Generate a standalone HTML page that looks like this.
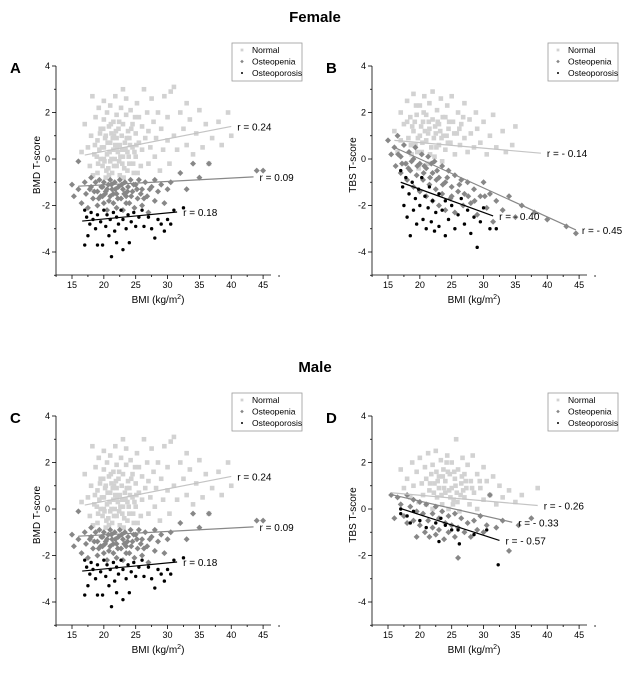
<!DOCTYPE html>
<html><head><meta charset="utf-8"><style>
html,body{margin:0;padding:0;background:#fff;}
svg{display:block;font-family:"Liberation Sans",sans-serif;}
</style></head><body>
<svg id="fig" width="631" height="674" viewBox="0 0 631 674">
<text x="315" y="22" text-anchor="middle" font-size="15" font-weight="bold">Female</text>
<text x="315" y="372" text-anchor="middle" font-size="15" font-weight="bold">Male</text>
</svg>
<script>
const xTicks=[15,20,25,30,35,40,45];
const yTicks=[-4,-2,0,2,4];
const seriesNames=["Normal","Osteopenia","Osteoporosis"];
const aNormal=[[17,1.5],[17.5,0.5],[17.8,-0.3],[18,1],[18.2,2.7],[18.5,0.2],[18.7,1.8],[19,-0.6],[19,0.8],[19.2,2.2],[19.5,0],[19.5,1.3],[19.8,-0.3],[20,0.5],[20,1.7],[20,2.5],[20.3,-0.8],[20.3,1],[20.5,0.2],[20.5,2],[20.7,-0.4],[20.8,1.4],[21,0.7],[21,-0.1],[21,2.3],[21.2,1.1],[21.3,-0.6],[21.5,0.4],[21.5,1.6],[21.7,0],[21.8,2.7],[22,0.9],[22,-0.3],[22,1.9],[22.2,0.3],[22.3,1.3],[22.5,-0.7],[22.5,0.6],[22.7,2.2],[22.8,1],[23,0.1],[23,1.5],[23,3],[23.2,-0.4],[23.3,0.7],[23.5,1.9],[23.5,2.6],[23.7,0.3],[23.8,1.2],[24,-0.2],[24,0.9],[24.2,2.1],[24.5,0.5],[24.5,1.5],[24.7,-0.6],[25,1.1],[25,0.1],[25.2,2.4],[25.5,0.7],[25.5,1.8],[25.8,-0.3],[26,0.4],[26,1.4],[26.3,3],[26.5,0.9],[26.8,2],[27,-0.2],[27,1.2],[27.3,0.5],[27.5,2.6],[27.8,1.6],[28,0.1],[28.2,0.9],[28.5,2],[28.8,-0.5],[29,1.3],[29.3,0.4],[29.5,2.7],[30,1.8],[30,0.8],[30.3,-0.2],[30.5,2.9],[31,1],[31,3.1],[31.5,0.4],[32,2],[32.5,1.3],[33,0.6],[33,2.4],[33.5,1.7],[34,0.2],[34.5,1.1],[35,2.1],[35.5,0.5],[36,1.5],[36.5,-0.2],[37,0.9],[38,1.6],[38.5,0.6],[39.5,2],[40,1],[16.5,0.3],[18.3,-0.7],[19.3,0.4],[20.1,-0.1],[21.4,0.9],[22.1,0.5],[22.6,0.1],[23.4,0.4],[24.1,0.6],[20.6,0.7],[21.9,1.2],[23.6,0.9],[24.8,0.3],[18.6,0.6],[19.1,-0.2],[19.4,1.1],[19.7,0.5],[20.2,0.9],[20.4,-0.5],[20.9,0.3],[21.1,1.5],[21.6,-0.3],[21.6,1.0],[22.4,-0.1],[22.4,1.6],[22.9,0.4],[23.1,-0.8],[23.9,0.1],[24.3,1.3],[24.6,-0.2],[25.1,0.6],[25.3,-0.6],[19.9,1.3],[20.8,-0.7],[21.8,0.6],[23.7,-0.5],[24.9,1.8],[18.9,0.1],[22.9,-0.2],[21.2,0.0],[20.0,0.0]];
const aOsteopenia=[[15,-1.1],[15.3,-1.6],[16,-0.1],[16,-1.3],[16.5,-1.9],[17,-1],[17.2,-1.5],[17.5,-2.1],[18,-1.2],[18,-0.8],[18.3,-1.7],[18.7,-1],[19,-1.4],[19,-2],[19.3,-0.9],[19.5,-1.6],[19.8,-1.2],[20,-1.9],[20,-1],[20.3,-1.4],[20.5,-2.2],[20.7,-1.1],[21,-1.6],[21,-0.9],[21.3,-1.3],[21.5,-1.9],[21.7,-1],[22,-1.5],[22,-2.1],[22.3,-1.2],[22.5,-0.9],[22.7,-1.7],[23,-1.3],[23,-2.2],[23.3,-1],[23.5,-1.6],[23.8,-1.2],[24,-1.9],[24.2,-0.9],[24.5,-1.4],[24.8,-2.1],[25,-1.1],[25.3,-1.7],[25.5,-0.9],[26,-1.3],[26,-2],[26.5,-1],[26.8,-1.6],[27,-2.3],[27.5,-1.2],[28,-0.9],[28,-1.8],[28.5,-1.4],[29,-1.1],[29.5,-1.9],[30,-1.3],[30.5,-1],[32,-0.6],[33,-1.3],[34,-0.2],[35,-0.8],[36.5,-0.2],[44,-0.5],[45,-0.5],[20.2,-1.5],[21.8,-1.3],[23.2,-1.5],[19.6,-1.2],[18.5,-1.4],[19.2,-1.7],[20.5,-1.3],[20.8,-1.8],[21.5,-1.5],[22.2,-1.7],[22.8,-1.1],[23.7,-1.4],[24.3,-1.6],[25.2,-1.3],[25.8,-1.5],[26.3,-1.7],[27.2,-1.3],[17.8,-1.3],[19.8,-1.6],[21.2,-1.1],[23.5,-1.9],[24.7,-1.1]];
const aOsteoporosis=[[17,-3.7],[17,-2.2],[17.3,-2.5],[17.5,-3.3],[17.8,-2.8],[18,-2.3],[18.3,-2.6],[18.7,-3],[19,-3.7],[19,-2.4],[19.5,-2.7],[19.8,-3.7],[20,-2.2],[20.3,-2.9],[20.5,-2.4],[20.8,-3.3],[21,-2.6],[21.2,-4.2],[21.5,-2.3],[21.7,-3.1],[22,-2.5],[22,-3.6],[22.3,-2.8],[22.7,-2.2],[23,-3.9],[23,-2.6],[23.5,-3],[23.8,-2.4],[24,-3.6],[24.3,-2.7],[24.7,-2.3],[25,-2.9],[25.5,-2.5],[26,-2.2],[26.3,-2.9],[27,-2.5],[27.5,-3],[28,-3.4],[28.5,-2.6],[29,-2.8],[29.5,-3.1],[30,-2.6],[30.5,-2.8],[31,-2.2],[32.5,-2.1]];
const bNormal=[[16,1.2],[16.5,0.3],[17,2],[17,0.8],[17.5,1.5],[17.8,-0.2],[18,2.5],[18.2,0.9],[18.5,1.8],[18.7,0.2],[19,1.2],[19,2.8],[19.3,0.6],[19.5,1.9],[19.8,-0.4],[20,1],[20,2.3],[20.3,0.3],[20.5,1.6],[20.7,2.7],[21,0.8],[21,1.9],[21.2,-0.2],[21.5,1.3],[21.5,2.4],[21.8,0.5],[22,1.7],[22,2.9],[22.3,0.1],[22.5,1.1],[22.7,2.1],[23,0.6],[23,1.5],[23.3,2.6],[23.5,-0.1],[23.7,1],[24,1.8],[24,0.4],[24.3,2.3],[24.5,1.3],[24.8,0.7],[25,2.7],[25.2,1.6],[25.5,0.2],[25.8,1.1],[26,2],[26.3,0.6],[26.5,1.5],[27,0.9],[27,2.4],[27.5,0.3],[27.8,1.7],[28,1.1],[28.5,0.5],[28.8,2],[29,1.3],[29.5,0.7],[30,1.6],[30.5,0.2],[31,1],[31.5,1.9],[32,0.5],[33,1.2],[33.5,0.3],[34.5,0.6],[35,1.4],[20.2,1.4],[21.3,1.1],[22.2,0.9],[23.2,1.2],[19.7,0.9],[24.2,1],[18.8,1.4],[18,1.6],[18.6,0.6],[19.2,1.6],[19.6,0.3],[20.4,0.7],[20.6,2],[21.4,1.6],[21.6,0.2],[22.4,1.4],[22.6,0.5],[23.4,0.9],[23.6,1.8],[24.4,0.7],[24.6,1.6],[25.4,1.1],[26.2,1.3],[20.8,1.2],[22.8,1.6],[19.4,2.3],[26.8,1.8]];
const bOsteopenia=[[15,0.8],[15.5,0.2],[16,0.5],[16.2,-0.3],[16.5,1],[17,0.1],[17,-0.6],[17.5,0.6],[17.8,-0.2],[18,-0.9],[18.3,0.3],[18.5,-0.5],[19,0],[19,-1.2],[19.3,0.5],[19.5,-0.7],[20,-0.2],[20,-1.4],[20.3,0.2],[20.5,-0.9],[21,-0.4],[21,-1.6],[21.3,0.1],[21.5,-1.1],[22,-0.6],[22,-1.8],[22.3,-0.1],[22.5,-1.3],[23,-0.8],[23,-2],[23.5,-0.3],[23.5,-1.5],[24,-1],[24,-2.2],[24.5,-0.5],[24.8,-1.7],[25,-1.2],[25.5,-0.7],[25.5,-2.3],[26,-1.4],[26.5,-0.9],[26.8,-2],[27,-1.5],[27.5,-1],[28,-1.9],[28.5,-1.3],[29,-2.4],[29.5,-1.6],[30,-1],[30.5,-2.1],[31,-1.5],[31.5,-2.7],[32,-1.8],[33,-2.2],[34,-1.6],[35,-2.5],[36,-2],[38,-2.3],[40,-2.6],[43,-2.9],[44.5,-3.2],[20.7,-0.3],[22.7,-0.5],[24.3,-0.8],[18.7,-0.1],[17.2,-0.2],[18.2,-0.4],[19.6,-0.3],[20.6,-0.6],[21.6,-0.8],[22.6,-0.9],[23.6,-1.1],[25,-1.6],[26.2,-1.1],[27.6,-1.6],[28.6,-1.8],[30.2,-1.6],[16.6,0.2],[21.8,-0.2]];
const bOsteoporosis=[[17,-0.5],[17.3,-1.2],[17.5,-2],[17.8,-0.8],[18,-2.5],[18.3,-1.5],[18.5,-3.3],[18.8,-1],[19,-2.2],[19.3,-1.7],[19.5,-2.8],[19.8,-1.3],[20,-2],[20.3,-0.8],[20.5,-2.6],[20.8,-1.6],[21,-3],[21.3,-2.1],[21.5,-1.2],[21.8,-2.7],[22,-1.8],[22.3,-3.1],[22.5,-2.3],[23,-1.5],[23,-2.9],[23.5,-2.2],[24,-3.3],[24,-1.8],[24.5,-2.6],[25,-2],[25.5,-3],[26,-2.4],[26.5,-1.7],[27,-2.8],[27.5,-2.2],[28,-3.2],[28.5,-2.5],[29,-3.8],[29.5,-2.7],[30,-2.1],[31,-3],[32,-3]];
const dNormal=[[17,1.7],[17.5,0.9],[18,1.3],[18.5,0.5],[18.8,2],[19,1],[19.5,1.6],[19.8,0.3],[20,2.2],[20.3,1.1],[20.5,0.6],[20.8,1.8],[21,0.2],[21,1.3],[21.3,2.4],[21.5,0.8],[21.8,1.5],[22,0],[22,1.9],[22.3,1.1],[22.5,2.5],[22.7,0.5],[23,1.4],[23,0.9],[23.3,2.1],[23.5,0.2],[23.7,1.7],[24,0.7],[24,1.2],[24.3,2.3],[24.5,0],[24.7,1.5],[25,0.9],[25,2],[25.3,0.4],[25.5,1.3],[25.7,3],[25.8,0.7],[26,1.7],[26.2,-0.1],[26.5,1.1],[26.7,2.2],[27,0.5],[27,1.5],[27.3,0.9],[27.5,1.9],[27.8,0.2],[28,1.2],[28.3,2.3],[28.5,0.7],[29,1.5],[29,0],[29.5,0.9],[30,1.8],[30,0.4],[30.5,1.2],[31,0.6],[31.5,1.4],[32,0.2],[32.5,1],[33,0.5],[34,0.8],[35,0.3],[36,0.6],[38.5,0.9],[23.8,0.9],[24.6,0.8],[25.6,1],[26.4,0.6],[22.8,1.2],[21.6,1.1],[22.6,1.6],[23.4,0.6],[23.6,1.4],[24.4,1.6],[24.8,0.5],[25.4,1.6],[25.9,0.3],[26.6,1.4],[27.2,1.2],[28.2,0.9],[22.2,0.7],[26.8,0.8],[29.4,1.2],[24.2,2],[25.2,0.2]];
const dOsteopenia=[[15.5,0.6],[16,-0.4],[16.5,0.5],[17,0.2],[17.5,-0.3],[18,0.6],[18,-0.6],[18.5,0.1],[19,-0.5],[19,0.4],[19.5,-1.2],[19.5,-0.1],[20,0.3],[20,-0.7],[20.5,-0.2],[20.8,-1],[21,0.2],[21.3,-0.5],[21.5,-1.2],[22,-0.2],[22,-0.8],[22.5,0.1],[22.5,-1.1],[23,-0.4],[23,-0.9],[23.5,-0.1],[23.8,-1.3],[24,-0.6],[24.5,-0.3],[24.5,-1],[25,-0.7],[25.5,-0.2],[25.5,-1.2],[26,-2.1],[26,-0.8],[26.5,-0.4],[27,-1],[27.5,-0.6],[28,-1.2],[28.5,-0.5],[29,-0.9],[29.5,-0.3],[30,-1],[30.5,-0.7],[31,0.6],[32,-0.8],[33,-0.5],[34,-1.8],[35.5,-0.7],[37.5,-0.4]];
const dOsteoporosis=[[17,-0.2],[17,0],[18,-0.3],[18.5,-0.6],[19,-0.1],[20,-0.5],[21,-0.8],[22.5,-0.6],[23,-1.4],[23.3,-0.4],[24,-0.7],[25,-0.9],[26,-0.9],[26.2,-1.5],[28.5,-1.1],[30.5,-0.9],[32.3,-2.4]];
const aFits=[[17,0.17,40,1.4],[16,-1.17,43.5,-0.77],[16.6,-2.67,31.5,-2.28]];
const bFits=[[16,0.8,39,0.25],[16,0.5,44.5,-3.05],[17,-1,31.5,-2.45]];
const dFits=[[15.5,0.7,38.5,0.15],[15.5,0.62,34.5,-0.57],[17,0.02,32.5,-1.35]];
const aLabels=["r = 0.24","r = 0.09","r = 0.18"];
const bLabels=["r = - 0.14","r = - 0.45","r = - 0.40"];
const dLabels=["r = - 0.26","r = - 0.33","r = - 0.57"];

const NS="http://www.w3.org/2000/svg";
const svg=document.getElementById('fig');
const colors=["#d2d2d2","#878787","#000"];
const lineColors=["#c4c4c4","#888","#000"];
function el(tag,attrs,parent){const e=document.createElementNS(NS,tag);for(const k in attrs)e.setAttribute(k,attrs[k]);(parent||svg).appendChild(e);return e;}
function marker(g,i,cx,cy,s){
  s=s||1;
  if(i===0)return el('rect',{x:cx-2.3*s,y:cy-2.3*s,width:4.6*s,height:4.6*s,fill:colors[0]},g);
  if(i===1)return el('path',{d:`M${cx},${cy-3*s}L${cx+3*s},${cy}L${cx},${cy+3*s}L${cx-3*s},${cy}Z`,fill:colors[1]},g);
  return el('circle',{cx:cx,cy:cy,r:1.7*s,fill:colors[2]},g);
}
function panel(ox,oy,letter,ytitle,series,fits,labels,key){
  const X=v=>ox+72+(v-15)*6.37;
  const Y=v=>oy+66+(4-v)*23.25;
  const g=el('g',{});
  
  
  const t=el('text',{x:ox+10,y:oy+73,'font-size':15,'font-weight':'bold'},g);t.textContent=letter;
  
  
  series.forEach((pts,i)=>{
    const sg=el('g',{},g);
    
    
    pts.forEach(p=>{const m=marker(sg,i,X(p[0]),Y(p[1]));
      
      });
  });
  fits.forEach((f,i)=>{
    const l=el('line',{x1:X(f[0]),y1:Y(f[1]),x2:X(f[2]),y2:Y(f[3]),stroke:lineColors[i],'stroke-width':1.2},g);
    
    
    const tx=el('text',{x:X(f[2])+6,y:Y(f[3])+4,'font-size':10},g);tx.textContent=labels[i];
    
    
  });
  const ax=el('g',{stroke:'#000','stroke-width':0.8},g);
  
  
  el('line',{x1:ox+56,y1:Y(4),x2:ox+56,y2:oy+275},ax);
  el('line',{x1:ox+56,y1:oy+275,x2:ox+271,y2:oy+275},ax);
  for(let v=12.5;v<=47.5;v+=2.5){const big=(v%5===0);el('line',{x1:X(v),y1:oy+275,x2:X(v),y2:oy+275+(big?4:2)},ax);}
  for(let v=-5;v<=4;v+=1){const big=(v%2===0);el('line',{x1:ox+56,y1:Y(v),x2:ox+56-(big?4:2),y2:Y(v)},ax);}
  xTicks.forEach(v=>{const tt=el('text',{x:X(v),y:oy+288,'font-size':9,'text-anchor':'middle'},g);tt.textContent=v;
    
    });
  yTicks.forEach(v=>{const tt=el('text',{x:ox+50,y:Y(v)+3,'font-size':9,'text-anchor':'end'},g);tt.textContent=v;
    
    });
  const xt=el('text',{x:ox+158,y:oy+303,'font-size':10,'text-anchor':'middle'},g);
  xt.innerHTML='BMI (kg/m<tspan dy="-4" font-size="7">2</tspan><tspan dy="4">)</tspan>';
  
  
  const yt=el('text',{x:0,y:0,'font-size':10,'text-anchor':'middle',transform:`translate(${ox+40},${oy+165}) rotate(-90)`},g);
  yt.textContent=ytitle;
  
  
  const lg=el('g',{},g);
  
  
  el('rect',{x:ox+232,y:oy+43,width:70,height:38,fill:'#fff',stroke:'#999','stroke-width':0.8},lg);
  seriesNames.forEach((n,i)=>{
    marker(lg,i,ox+242,oy+50+i*11.5,0.6);
    const lt=el('text',{x:ox+252,y:oy+53+i*11.5,'font-size':8.5},lg);lt.textContent=n;
    
    
  });
}
panel(0,0,'A','BMD T-score',[aNormal,aOsteopenia,aOsteoporosis],aFits,aLabels,'a');
panel(316,0,'B','TBS T-score',[bNormal,bOsteopenia,bOsteoporosis],bFits,bLabels,'b');
panel(0,350,'C','BMD T-score',[aNormal,aOsteopenia,aOsteoporosis],aFits,aLabels,'c');
panel(316,350,'D','TBS T-score',[dNormal,dOsteopenia,dOsteoporosis],dFits,dLabels,'d');
</script>
</body></html>
